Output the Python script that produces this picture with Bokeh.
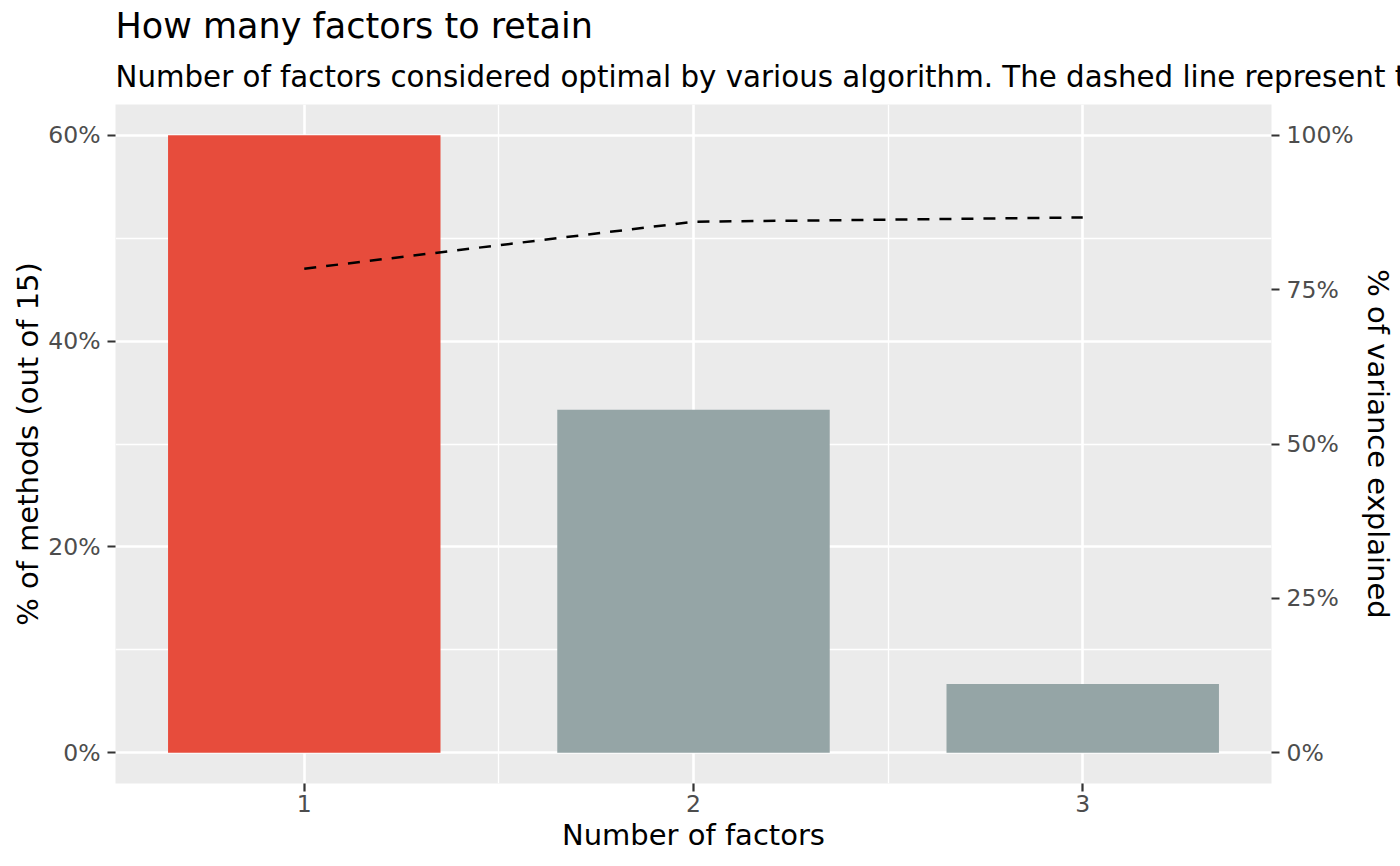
from bokeh.plotting import figure
from bokeh.models import (Range1d, LinearAxis, FixedTicker, PrintfTickFormatter,
                          Title, ColumnDataSource)
from bokeh.embed import file_html
from bokeh.resources import INLINE

# ---- data ----
n_factors = [1, 2, 3]
pct_methods = [60.0, 33.33, 6.67]          # % of methods (out of 15)
bar_colors = ["#E74C3C", "#95A5A6", "#95A5A6"]
var_explained = [78.4, 86.0, 86.7]          # % of variance explained
left_ticks = [0, 20, 40, 60]
left_minor = [10, 30, 50]
right_ticks = [0, 25, 50, 75, 100]
x_ticks = [1, 2, 3]
x_minor = [1.5, 2.5]

title_text = "How many factors to retain"
subtitle_text = ("Number of factors considered optimal by various algorithm. "
                 "The dashed line represent the proportion of variance explained")

FONT = "DejaVu Sans"

p = figure(width=1400, height=866, output_backend="svg", toolbar_location=None,
           x_range=Range1d(0.515, 3.485), y_range=Range1d(-3, 63),
           min_border_left=115, min_border_right=129, min_border_top=104,
           min_border_bottom=83, title=None)
p.extra_y_ranges = {"var": Range1d(-5, 105)}

p.outline_line_color = None
p.background_fill_color = "#EBEBEB"
p.border_fill_color = "white"

# titles
sub = Title(text=subtitle_text, text_font=FONT, text_font_size="29.3px",
            text_font_style="normal", text_color="black", standoff=22, offset=0)
main = Title(text=title_text, text_font=FONT, text_font_size="35px",
             text_font_style="normal", text_color="black", standoff=1, offset=0)
p.add_layout(sub, "above")
p.add_layout(main, "above")

src = ColumnDataSource(dict(x=n_factors, top=pct_methods, color=bar_colors))
p.vbar(x="x", top="top", bottom=0, width=0.7, fill_color="color",
       line_color=None, source=src)

p.line(x=n_factors, y=var_explained, y_range_name="var", line_color="black",
       line_width=2.5, line_dash="12 10")

def style_axis(ax):
    ax.axis_line_color = None
    ax.major_tick_line_color = "#333333"
    ax.major_tick_line_width = 2.2
    ax.major_tick_out = 8
    ax.major_tick_in = 0
    ax.minor_tick_line_color = None
    ax.major_label_text_font = FONT
    ax.major_label_text_font_size = "23.5px"
    ax.major_label_text_color = "#4D4D4D"
    ax.axis_label_text_font = FONT
    ax.axis_label_text_font_size = "29px"
    ax.axis_label_text_font_style = "normal"
    ax.axis_label_text_color = "black"

# x axis
xax = p.xaxis[0]
xax.ticker = FixedTicker(ticks=x_ticks, minor_ticks=x_minor)
xax.axis_label = "Number of factors"
style_axis(xax)
xax.major_label_standoff = 3
xax.axis_label_standoff = 3

# left y axis
yax = p.yaxis[0]
yax.ticker = FixedTicker(ticks=left_ticks, minor_ticks=left_minor)
yax.formatter = PrintfTickFormatter(format="%d%%")
yax.axis_label = "% of methods (out of 15)"
style_axis(yax)
yax.major_label_standoff = 7
yax.axis_label_standoff = 0

# right y axis
rax = LinearAxis(y_range_name="var", axis_label="% of variance explained",
                 ticker=FixedTicker(ticks=right_ticks),
                 formatter=PrintfTickFormatter(format="%d%%"))
style_axis(rax)
rax.major_label_standoff = 7
rax.axis_label_standoff = 4
p.add_layout(rax, "right")

# grids
for g in (p.xgrid[0], p.ygrid[0]):
    g.grid_line_color = "white"
    g.grid_line_width = 2.6
    g.minor_grid_line_color = "white"
    g.minor_grid_line_width = 1.3

open("out.html", "w").write(file_html(p, INLINE))
